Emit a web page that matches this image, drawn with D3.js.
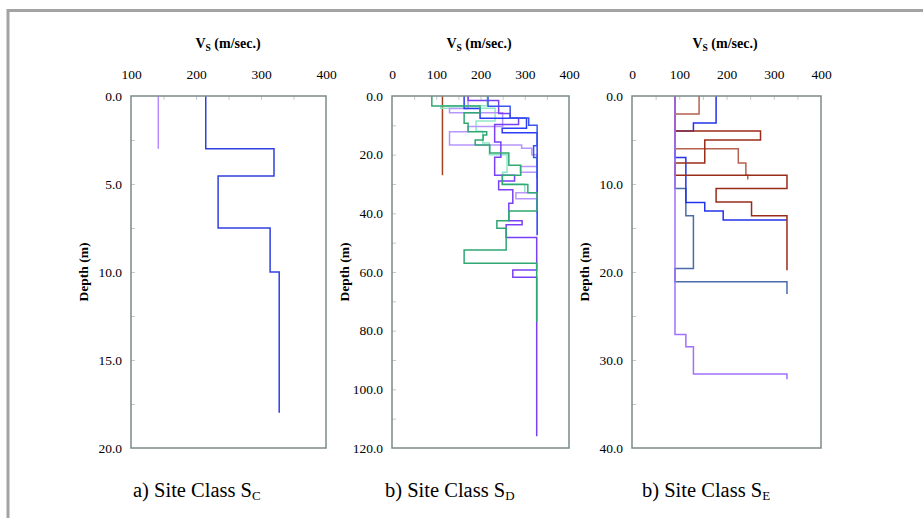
<!DOCTYPE html>
<html><head><meta charset="utf-8">
<script src="https://cdn.jsdelivr.net/npm/d3@7"></script>
<style>
body{margin:0;background:#fff;}
</style></head>
<body>
<svg id="chart" width="923" height="518"></svg>
<script>
// ---------- DATA (layers: [Vs (m/s), bottom depth (m)], each starting at previous bottom) ----------
const xTicksA = [100, 200, 300, 400];
const xTicksBC = [0, 100, 200, 300, 400];
const yTicksA = [0, 5, 10, 15, 20];
const yTicksB = [0, 20, 40, 60, 80, 100, 120];
const yTicksC = [0, 10, 20, 30, 40];
const captions = ["a) Site Class S", "b) Site Class S", "b) Site Class S"];
const captionSubs = ["C", "D", "E"];

// Panel a) Site Class SC
const scPurple = [[142, 3.0]];
const scBlue = [[215, 3.0], [320, 4.55], [234, 7.5], [314, 10.0], [328, 18.0]];

// Panel b) Site Class SD
const sdBrown = [[114, 27]];
const sdMint = [[215, 3.3], [110, 4.2], [233, 8.5], [190, 12], [205, 16], [220, 20], [260, 26], [250, 30], [300, 33]];
const sdLightPurple = [[172, 4.3], [130, 5.7], [250, 10.4], [172, 12.2], [130, 16.7], [293, 17.8], [316, 20], [328, 24], [290, 26], [328, 33], [280, 35], [328, 40]];
const sdGreen = [[90, 3.4], [199, 5.7], [163, 9.3], [172, 12.2], [214, 13.3], [206, 15], [188, 16.7], [221, 19.4], [264, 23.6], [291, 27], [249, 30.2], [307, 33], [328, 39.2], [264, 42.5], [237, 45.1], [258, 52.5], [163, 57], [327, 77]];
const sdBlue1 = [[163, 4.3], [199, 7.6], [304, 11], [249, 12.5], [328, 47.5]];
const sdBlue2 = [[217, 3.5], [267, 7.5], [309, 10], [328, 17], [320, 21], [328, 28]];
const sdPurple = [[172, 1.5], [241, 6], [267, 7.6], [286, 9.7], [232, 15.7], [246, 20.9], [232, 27], [277, 29], [241, 32], [273, 36.6], [264, 42.5], [294, 43.9], [258, 48.2], [327, 59.3], [273, 61.8], [327, 116]];

// Panel c) Site Class SE
const sePurple = [[91, 27.1], [114, 28.5], [130, 31.6], [328, 32.2]];
const seBrownLight = [[142, 2.05], [91, 6.0], [225, 7.6], [241, 9.0], [245, 9.5]];
const seBrownDark = [[91, 3.98], [272, 5.0], [154, 7.6], [91, 9.0], [328, 10.5], [178, 12.05], [253, 13.6], [328, 19.8]];
const seBlue = [[178, 3.07], [130, 3.98], [91, 7.0], [114, 12.1], [154, 13.07], [193, 14.1], [328, 14.1]];
const seSteel = [[91, 10.5], [114, 13.6], [130, 19.6], [91, 21.1], [328, 22.5]];

// ---------- LAYOUT ----------
const FONT = '"Liberation Serif", Tinos, "Times New Roman", "DejaVu Serif", "Noto Serif", serif';
const panels = [
  {x0:131, x1:326, xDom:[100,400], xTicks:xTicksA, xMinor:[150,200,250,300,350], yDom:[0,20], yTicks:yTicksA, yMinor:[2.5,5,7.5,10,12.5,15,17.5],
   series:[{d:scPurple,c:"#b58cff"},{d:scBlue,c:"#3040e0"}], cap:0, titleX:228, capX:133},
  {x0:392, x1:569, xDom:[0,400], xTicks:xTicksBC, xMinor:[50,100,150,200,250,300,350], yDom:[0,120], yTicks:yTicksB, yMinor:[10,20,30,40,50,60,70,80,90,100,110],
   series:[{d:sdBrown,c:"#a8401f"},{d:sdMint,c:"#92e6c8"},{d:sdLightPurple,c:"#b896ff"},{d:sdPurple,c:"#7a40f5"},{d:sdBlue1,c:"#2a3cf5"},{d:sdBlue2,c:"#3b55ee"},{d:sdGreen,c:"#2fa873"}], cap:1, titleX:479, capX:385},
  {x0:632, x1:821, xDom:[0,400], xTicks:xTicksBC, xMinor:[50,100,150,200,250,300,350], yDom:[0,40], yTicks:yTicksC, yMinor:[5,10,15,20,25,30,35],
   series:[{d:seSteel,c:"#4a6aaa"},{d:seBlue,c:"#2433e8"},{d:seBrownLight,c:"#b5624e"},{d:seBrownDark,c:"#9a2c1a"},{d:sePurple,c:"#a070ff"}], cap:2, titleX:725, capX:642}
];
const yTop = 96, yBot = 448;
const fmt = d3.format(".1f");

const svg = d3.select("#chart");
svg.append("line").attr("x1",8).attr("x2",923).attr("y1",10.5).attr("y2",10.5).attr("stroke","#a3a3a3").attr("stroke-width",3);
svg.append("line").attr("x1",8).attr("x2",8).attr("y1",9).attr("y2",518).attr("stroke","#a3a3a3").attr("stroke-width",3);

function stepPoints(layers){
  const pts = [[layers[0][0], 0]];
  layers.forEach((l,i)=>{
    pts.push([l[0], l[1]]);
    if(i < layers.length-1) pts.push([layers[i+1][0], l[1]]);
  });
  return pts;
}

panels.forEach(p=>{
  const x = d3.scaleLinear().domain(p.xDom).range([p.x0, p.x1]);
  const y = d3.scaleLinear().domain(p.yDom).range([yTop, yBot]);
  const g = svg.append("g");

  const tTop = g.append("g").attr("transform",`translate(0,${yTop})`)
    .call(d3.axisBottom(x).tickValues(p.xMinor).tickSize(4).tickFormat(""));
  tTop.select(".domain").remove();
  tTop.selectAll("line").attr("stroke","#c8c8c8");
  const lTop = g.append("g").attr("transform",`translate(0,${yTop})`)
    .call(d3.axisTop(x).tickValues(p.xTicks).tickSize(0).tickPadding(17).tickFormat(d3.format("d")));
  lTop.select(".domain").remove();
  lTop.attr("font-family", null);
  lTop.selectAll("text").attr("font-size",13.5).style("font-family",FONT).attr("fill","#000");

  const tLeft = g.append("g").attr("transform",`translate(${p.x0},0)`)
    .call(d3.axisRight(y).tickValues(p.yMinor).tickSize(4).tickFormat(""));
  tLeft.select(".domain").remove();
  tLeft.selectAll("line").attr("stroke","#c8c8c8");
  const lLeft = g.append("g").attr("transform",`translate(${p.x0},0)`)
    .call(d3.axisLeft(y).tickValues(p.yTicks).tickSize(0).tickPadding(9).tickFormat(fmt));
  lLeft.select(".domain").remove();
  lLeft.attr("font-family", null);
  lLeft.selectAll("text").attr("font-size",13.5).style("font-family",FONT).attr("fill","#000");

  const line = d3.line().x(d=>x(d[0])).y(d=>y(d[1]));
  p.series.forEach(s=>{
    g.append("path").attr("d", line(stepPoints(s.d))).attr("fill","none")
      .attr("stroke", s.c).attr("stroke-width",1.5);
  });

  g.append("rect").attr("x",p.x0).attr("y",yTop).attr("width",p.x1-p.x0).attr("height",yBot-yTop)
    .attr("fill","none").attr("stroke","#7b8a8a").attr("stroke-width",1.5);

  const t = g.append("text").attr("x",p.titleX).attr("y",48).attr("text-anchor","middle")
    .attr("font-size",14).attr("font-weight","bold").style("font-family",FONT);
  t.append("tspan").text("V");
  t.append("tspan").attr("font-size",9.5).attr("dy",3).text("S");
  t.append("tspan").attr("dy",-3).text(" (m/sec.)");

  g.append("text").attr("transform",`translate(${p.x0-43},${(yTop+yBot)/2}) rotate(-90)`)
    .attr("text-anchor","middle").attr("font-size",13.5).attr("font-weight","bold").style("font-family",FONT).text("Depth (m)");

  const c = g.append("text").attr("x",p.capX).attr("y",497).attr("text-anchor","start").attr("font-size",20.5).style("font-family",FONT);
  c.append("tspan").text(captions[p.cap]);
  c.append("tspan").attr("font-size",13).attr("dy",3).text(captionSubs[p.cap]);
});
</script>
</body></html>
